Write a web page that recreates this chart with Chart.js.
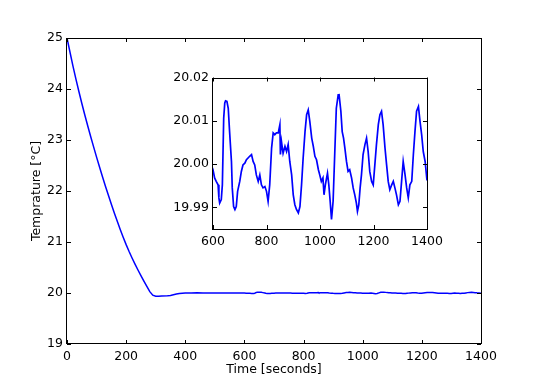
<!DOCTYPE html>
<html>
<head>
<meta charset="utf-8">
<script src="https://cdn.jsdelivr.net/npm/chart.js@4.4.1/dist/chart.umd.min.js"></script>
<style>
  html, body { margin: 0; padding: 0; background: #fff; }
  #wrap { position: relative; width: 534px; height: 382px; }
  #mainChart { position: absolute; left: 0; top: 0; }
  #insetChart { position: absolute; left: 160px; top: 66px; }
</style>
</head>
<body>
<div id="wrap">
  <canvas id="mainChart" width="534" height="382"></canvas>
  <canvas id="insetChart" width="290" height="184"></canvas>
</div>
<script>
// Tempo (s) e temperatura (°C)
const times = [
  0, 10, 20, 30, 40, 50, 60, 70, 80, 90, 100, 110, 120, 130, 140, 150, 160, 170, 180, 190,
  200, 210, 220, 230, 240, 250, 260, 270, 280, 290, 300, 310, 320, 340, 350, 360, 370, 380, 390, 400,
  420, 440, 460, 480, 500, 520, 540, 560, 580,
  600, 606, 612, 619, 622, 625, 631, 635, 640, 644, 647, 652, 657, 662, 669, 672, 677, 682, 687, 692,
  700, 706, 712, 719, 725, 731, 737, 744, 750, 756, 762, 769, 775, 781, 787, 794, 800, 806, 812, 819,
  825, 831, 837, 844, 850, 852, 856, 862, 869, 875, 881, 887, 894, 900, 906, 912, 919, 925, 931, 937,
  944, 950, 956, 962, 969, 975, 981, 987, 994, 999, 1005, 1011, 1015, 1020, 1028, 1033, 1038, 1043, 1049, 1055,
  1061, 1068, 1071, 1078, 1083, 1088, 1093, 1099, 1105, 1111, 1118, 1124, 1130, 1136, 1140, 1145, 1150, 1155, 1161, 1168,
  1174, 1180, 1186, 1193, 1199, 1205, 1211, 1218, 1224, 1230, 1236, 1243, 1249, 1255, 1261, 1268, 1274, 1280, 1286, 1293,
  1299, 1305, 1311, 1318, 1324, 1330, 1336, 1343, 1349, 1355, 1361, 1368, 1374, 1380, 1386, 1393, 1399, 1400
];
const temps = [
  25.00, 24.725, 24.455, 24.20, 23.955, 23.72, 23.495, 23.28, 23.07, 22.865, 22.665, 22.47, 22.28, 22.095, 21.915, 21.74, 21.57, 21.405, 21.245, 21.093,
  20.948, 20.813, 20.686, 20.566, 20.451, 20.341, 20.234, 20.129, 20.027, 19.957, 19.935, 19.935, 19.94, 19.945, 19.95, 19.965, 19.98, 19.99, 19.995, 19.998,
  20.002, 20.003, 20.000, 19.998, 19.999, 20.001, 19.998, 20.000, 20.002,
  19.9987, 19.9968, 19.9960, 19.9952, 19.9922, 19.9910, 19.9918, 19.9952, 20.0106, 20.0141, 20.0146, 20.0145, 20.0129, 20.0075, 20.0006, 19.9945, 19.9902, 19.9895, 19.9902, 19.9937,
  19.9960, 19.9983, 19.9998, 20.0002, 20.0010, 20.0014, 20.0018, 20.0022, 20.0006, 19.9998, 19.9975, 19.9960, 19.9975, 19.9952, 19.9945, 19.9948, 19.9937, 19.9914, 19.9952, 20.0037,
  20.0072, 20.0068, 20.0072, 20.0072, 20.0091, 20.0022, 20.0052, 20.0025, 20.0041, 20.0029, 20.0045, 20.0006, 19.9975, 19.9929, 19.9906, 19.9895, 19.9887, 19.9902, 19.9952, 20.0014,
  20.0075, 20.0114, 20.0125, 20.0098, 20.0060, 20.0041, 20.0018, 20.0010, 19.9987, 19.9975, 19.9960, 19.9968, 19.9929, 19.9952, 19.9979, 19.9952, 19.9914, 19.9872, 19.9914, 20.0022,
  20.0129, 20.0160, 20.0162, 20.0122, 20.0075, 20.0060, 20.0037, 20.0006, 19.9983, 19.9987, 19.9968, 19.9945, 19.9929, 19.9910, 19.9891, 19.9906, 19.9945, 19.9975, 20.0022, 20.0045,
  20.0060, 20.0029, 19.9983, 19.9960, 19.9952, 19.9998, 20.0045, 20.0091, 20.0114, 20.0122, 20.0091, 20.0037, 19.9998, 19.9960, 19.9941, 19.9952, 19.9960, 19.9945, 19.9929, 19.9906,
  19.9914, 19.9960, 20.0006, 19.9975, 19.9945, 19.9922, 19.9952, 19.9960, 20.0022, 20.0075, 20.0122, 20.0133, 20.0098, 20.0068, 20.0029, 20.0006, 19.9968, 19.9962
];

// Ticks
const mainXTicks = [0, 200, 400, 600, 800, 1000, 1200, 1400];
const mainYTicks = [19, 20, 21, 22, 23, 24, 25];
const insetXTicks = [600, 800, 1000, 1200, 1400];
const insetYTicks = [19.99, 20.00, 20.01, 20.02];

const FONT = { family: 'DejaVu Sans', size: 12.5 };
const points = times.map((t, i) => ({ x: t, y: temps[i] }));

// moldura + ticks para dentro (estilo matplotlib)
const frameTicks = {
  id: 'frameTicks',
  beforeDraw(chart) {
    const { ctx, chartArea: a } = chart;
    ctx.save();
    ctx.fillStyle = '#fff';
    ctx.fillRect(a.left, a.top, a.right - a.left, a.bottom - a.top);
    ctx.restore();
  },
  afterDraw(chart) {
    const { ctx, chartArea: a, scales } = chart;
    const len = 4;
    ctx.save();
    ctx.strokeStyle = '#000';
    ctx.lineWidth = 1;
    ctx.beginPath();
    scales.x.ticks.forEach(t => {
      const px = Math.round(scales.x.getPixelForValue(t.value)) + 0.5;
      ctx.moveTo(px, a.bottom); ctx.lineTo(px, a.bottom - len);
      ctx.moveTo(px, a.top); ctx.lineTo(px, a.top + len);
    });
    scales.y.ticks.forEach(t => {
      const py = Math.round(scales.y.getPixelForValue(t.value)) + 0.5;
      ctx.moveTo(a.left, py); ctx.lineTo(a.left + len, py);
      ctx.moveTo(a.right, py); ctx.lineTo(a.right - len, py);
    });
    ctx.stroke();
    ctx.strokeRect(Math.round(a.left) - 0.5, Math.round(a.top) + 0.5,
      Math.round(a.right - a.left) + 1, Math.round(a.bottom - a.top) - 1);
    ctx.restore();
  }
};

function makeChart(id, opts) {
  return new Chart(document.getElementById(id), {
    type: 'line',
    data: {
      datasets: [{
        data: points,
        borderColor: '#0000ff',
        borderWidth: opts.lineWidth,
        pointRadius: 0,
        tension: 0,
        fill: false
      }]
    },
    options: {
      responsive: false,
      animation: false,
      layout: { padding: opts.padding },
      plugins: { legend: { display: false }, tooltip: { enabled: false } },
      scales: {
        x: {
          type: 'linear',
          min: opts.xMin, max: opts.xMax,
          afterBuildTicks: s => { s.ticks = opts.xTicks.map(v => ({ value: v })); },
          afterFit: s => { s.height = opts.xHeight; },
          grid: { display: false, drawTicks: false },
          border: { display: false },
          ticks: { font: FONT, color: '#000', padding: 5, autoSkip: false, maxRotation: 0,
                   callback: v => opts.xFmt(v) },
          title: opts.xTitle ? { display: true, text: opts.xTitle, font: FONT, color: '#000',
                   padding: { top: 0, bottom: 5 } } : { display: false }
        },
        y: {
          type: 'linear',
          min: opts.yMin, max: opts.yMax,
          afterBuildTicks: s => { s.ticks = opts.yTicks.map(v => ({ value: v })); },
          afterFit: s => { s.width = opts.yWidth; },
          grid: { display: false, drawTicks: false },
          border: { display: false },
          ticks: { font: FONT, color: '#000', padding: 4, callback: v => opts.yFmt(v) },
          title: opts.yTitle ? { display: true, text: opts.yTitle, font: FONT, color: '#000',
                   padding: { top: 29, bottom: 0 } } : { display: false }
        }
      }
    },
    plugins: [frameTicks]
  });
}

makeChart('mainChart', {
  padding: { left: 0, top: 38, right: 53, bottom: 0 },
  xMin: 0, xMax: 1400, yMin: 19, yMax: 25,
  xTicks: mainXTicks, yTicks: mainYTicks,
  xHeight: 38, yWidth: 67, lineWidth: 1.5,
  xFmt: v => String(v), yFmt: v => String(v),
  xTitle: 'Time [seconds]', yTitle: 'Temprature [°C]'
});

makeChart('insetChart', {
  padding: { left: 0, top: 10, right: 23, bottom: 0 },
  xMin: 600, xMax: 1400, yMin: 19.985, yMax: 20.02,
  xTicks: insetXTicks, yTicks: insetYTicks,
  xHeight: 21, yWidth: 53, lineWidth: 1.7,
  xFmt: v => String(v), yFmt: v => v.toFixed(2)
});
</script>
</body>
</html>
